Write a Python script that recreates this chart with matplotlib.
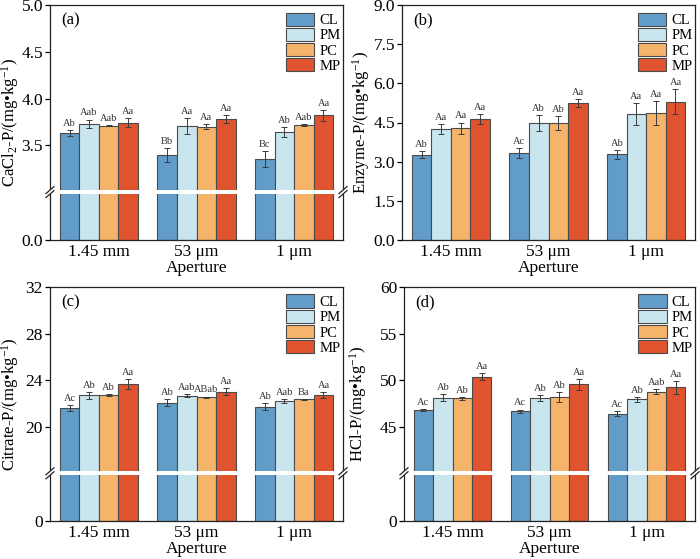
import numpy as np
import matplotlib
matplotlib.use("Agg")
import matplotlib.pyplot as plt
from matplotlib.patches import Rectangle, Patch

plt.rcParams['font.family'] = ['Liberation Serif', 'DejaVu Serif']
plt.rcParams['mathtext.fontset'] = 'custom'
plt.rcParams['mathtext.rm'] = 'Liberation Serif'
plt.rcParams['mathtext.it'] = 'Liberation Serif:italic'

groups = ["1.45 mm", "53 μm", "1 μm"]
treatments = ["CL", "PM", "PC", "MP"]
colors = ["#629dc9", "#c9e6ef", "#f6b46b", "#e0532f"]

# (a) CaCl2-P
a_vals = [[3.63, 3.40, 3.35], [3.73, 3.71, 3.64], [3.71, 3.70, 3.72], [3.74, 3.78, 3.82]]
a_err = [[0.03, 0.075, 0.085], [0.045, 0.086, 0.055], [0.008, 0.03, 0.01], [0.049, 0.04, 0.058]]
a_lab = [["Ab", "Bb", "Bc"], ["Aab", "Aa", "Ab"], ["Aab", "Aa", "Aab"], ["Aa", "Aa", "Aa"]]

# (b) Enzyme-P
b_vals = [[3.26, 3.32, 3.29], [4.24, 4.48, 4.81], [4.28, 4.49, 4.86], [4.63, 5.25, 5.30]]
b_err = [[0.13, 0.19, 0.17], [0.19, 0.29, 0.42], [0.22, 0.27, 0.47], [0.20, 0.15, 0.47]]
b_lab = [["Ab", "Ac", "Ab"], ["Aa", "Ab", "Aa"], ["Aa", "Ab", "Aa"], ["Aa", "Aa", "Aa"]]

# (c) Citrate-P
c_vals = [[21.63, 22.06, 21.71], [22.71, 22.66, 22.20], [22.74, 22.54, 22.34], [23.66, 23.00, 22.74]]
c_err = [[0.24, 0.30, 0.31], [0.30, 0.12, 0.20], [0.10, 0.05, 0.05], [0.43, 0.30, 0.26]]
c_lab = [["Ac", "Ab", "Ab"], ["Ab", "Aab", "Aab"], ["Ab", "ABab", "Ba"], ["Aa", "Aa", "Aa"]]

# (d) HCl-P
d_vals = [[46.79, 46.64, 46.39], [48.10, 48.10, 47.93], [48.04, 48.18, 48.75], [50.36, 49.54, 49.21]]
d_err = [[0.07, 0.20, 0.27], [0.37, 0.33, 0.27], [0.18, 0.55, 0.27], [0.39, 0.55, 0.66]]
d_lab = [["Ac", "Ac", "Ac"], ["Ab", "Ab", "Ab"], ["Ab", "Ab", "Aab"], ["Aa", "Aa", "Aa"]]

panels = [
    dict(tag="(a)", vals=a_vals, err=a_err, lab=a_lab, ylabel=r"CaCl$_\mathregular{2}$-P/(mg•kg$^\mathregular{-1}$)",
         top=5.0, brk=3.0, ticks=[0, 3.5, 4.0, 4.5, 5.0], ticklabels=["0.0", "3.5", "4.0", "4.5", "5.0"],
         pos=[50, 5, 293, 235], labx=21),
    dict(tag="(b)", vals=b_vals, err=b_err, lab=b_lab, ylabel=r"Enzyme-P/(mg•kg$^\mathregular{-1}$)",
         top=9.0, brk=None, ticks=[0, 1.5, 3.0, 4.5, 6.0, 7.5, 9.0],
         ticklabels=["0.0", "1.5", "3.0", "4.5", "6.0", "7.5", "9.0"], pos=[402, 5, 293, 235], labx=372),
    dict(tag="(c)", vals=c_vals, err=c_err, lab=c_lab, ylabel=r"Citrate-P/(mg•kg$^\mathregular{-1}$)",
         top=32, brk=16, ticks=[0, 20, 24, 28, 32], ticklabels=["0", "20", "24", "28", "32"],
         pos=[50, 287, 293, 234], labx=21),
    dict(tag="(d)", vals=d_vals, err=d_err, lab=d_lab, ylabel=r"HCl-P/(mg•kg$^\mathregular{-1}$)",
         top=60, brk=40, ticks=[0, 45, 50, 55, 60], ticklabels=["0", "45", "50", "55", "60"],
         pos=[404, 287, 291, 234], labx=369),
]

W, H = 700, 559
fig = plt.figure(figsize=(W / 100, H / 100), dpi=100)
FRAC = 0.204


def make_funcs(brk, top, frac=FRAC):
    def fwd(y):
        y = np.asarray(y, dtype=float)
        return np.where(y < brk, y / brk * frac, frac + (y - brk) / (top - brk) * (1 - frac))

    def inv(u):
        u = np.asarray(u, dtype=float)
        return np.where(u < frac, u / frac * brk, brk + (u - frac) / (1 - frac) * (top - brk))
    return fwd, inv


x = np.arange(len(groups))
bw = 0.2
for p in panels:
    l, t, w, h = p["pos"]
    ax = fig.add_axes([l / W, (H - t - h) / H, w / W, h / H])
    if p["brk"] is not None:
        fwd, inv = make_funcs(p["brk"], p["top"])
        ax.set_yscale('function', functions=(fwd, inv))
    for i, tr in enumerate(treatments):
        xs = x + (i - 1.5) * bw
        ax.bar(xs, p["vals"][i], bw, color=colors[i], edgecolor="#4a4a4a", linewidth=0.8, zorder=2)
        ax.errorbar(xs, p["vals"][i], yerr=p["err"][i], fmt='none', ecolor="#3a3a3a",
                    elinewidth=0.7, capsize=2.2, capthick=0.7, zorder=3)
        for j in range(len(groups)):
            ax.annotate(p["lab"][i][j], (xs[j], p["vals"][i][j] + p["err"][i][j]),
                        xytext=(0, 1.5), textcoords='offset points', ha='center', va='bottom',
                        fontsize=7.5, color="#333333")
    ax.set_xlim(-0.5, 2.5)
    ax.set_ylim(0, p["top"])
    ax.set_yticks(p["ticks"])
    ax.set_yticklabels(p["ticklabels"])
    ax.minorticks_off()
    ax.set_xticks(x)
    ax.set_xticklabels(groups)
    ax.tick_params(axis='x', length=0, labelsize=12.5, pad=3)
    ax.tick_params(axis='y', direction='out', length=3.5, width=0.9, labelsize=12.5, pad=1.5)
    ax.set_xlabel("Aperture", fontsize=12.5, labelpad=0)
    ax.set_ylabel(p["ylabel"], fontsize=12)
    ax.yaxis.set_label_coords((p["labx"] - l) / w, 0.5)
    for s in ax.spines.values():
        s.set_linewidth(0.9)
        s.set_color("#222222")
    ax.text(0.04, 0.935, p["tag"], transform=ax.transAxes, fontsize=12, va='center', ha='left')
    handles = [Patch(facecolor=colors[i], edgecolor="#4a4a4a", linewidth=0.8, label=treatments[i])
               for i in range(4)]
    ax.legend(handles=handles, loc='upper left', bbox_to_anchor=(0.805, 0.968), frameon=False,
              fontsize=10.5, handlelength=1.95, handleheight=1.0, labelspacing=0.05,
              handletextpad=0.35, borderpad=0, borderaxespad=0)
    if p["brk"] is not None:
        gh = 4.0 / h
        ax.add_patch(Rectangle((-0.01, FRAC - gh / 2), 1.02, gh, transform=ax.transAxes,
                               facecolor='white', edgecolor='none', zorder=10, clip_on=False))
        dx = 4.0 / w
        dy = 3.5 / h
        for xc in (0.0, 1.0):
            for yc in (FRAC - gh / 2, FRAC + gh / 2):
                ax.plot([xc - dx, xc + dx], [yc - dy, yc + dy], transform=ax.transAxes,
                        color="#222222", lw=0.9, clip_on=False, zorder=11)

fig.savefig("out.png", dpi=100)
